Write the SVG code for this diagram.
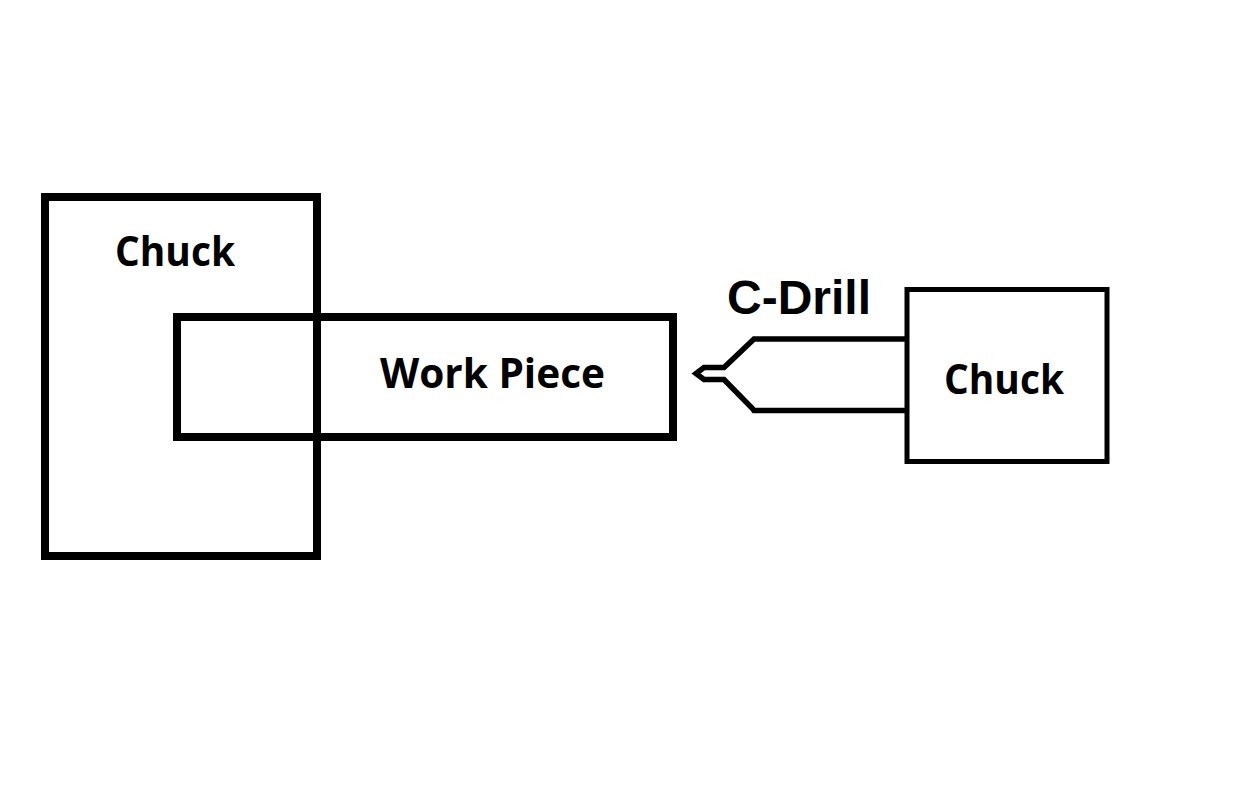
<svg xmlns="http://www.w3.org/2000/svg" width="1244" height="800" viewBox="0 0 1244 800">
<style>
.b{fill:none;stroke:#000}
.t{font-family:"Open Sans","Noto Sans",sans-serif;font-weight:700;font-size:42px;fill:#000}
</style>
<rect width="1244" height="800" fill="#fff"/>
<g id="chuck-left"><rect class="b" x="45" y="197" width="272" height="359" stroke-width="8"/><text class="t" x="115" y="266" textLength="120" lengthAdjust="spacingAndGlyphs">Chuck</text></g>
<g id="work-piece"><rect class="b" x="177" y="317" width="496" height="120" stroke-width="8"/><text class="t" x="380" y="388" textLength="225" lengthAdjust="spacingAndGlyphs">Work Piece</text></g>
<g id="chuck-right"><rect class="b" x="907" y="289.500" width="200" height="172" stroke-width="5"/><text class="t" x="944" y="394" textLength="120" lengthAdjust="spacingAndGlyphs">Chuck</text></g>
<g id="drill"><path class="b" stroke-width="5.500" d="M906 339H754L724 367.500H704L696 373.500L704 379.500H724L752 408L754 410.500H906"/><text x="727" y="314" font-family="Liberation Sans,Arial,sans-serif" font-weight="700" font-size="48">C-Drill</text></g>
</svg>
